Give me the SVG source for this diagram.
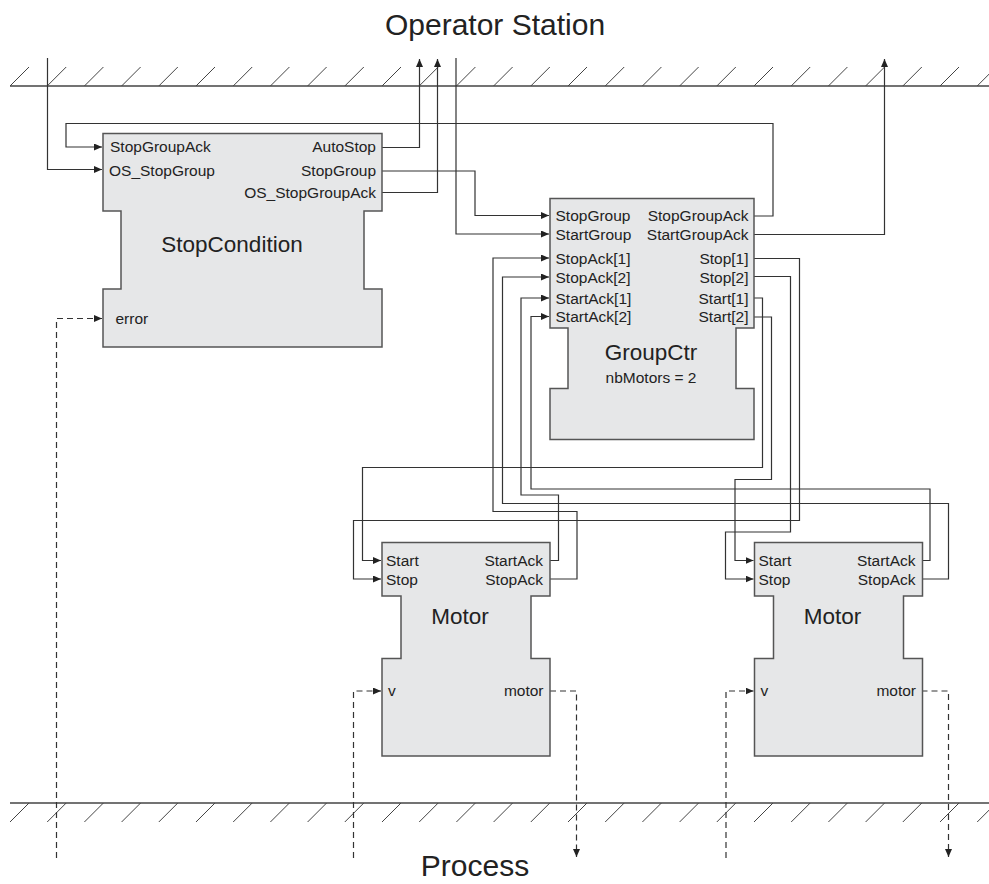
<svg xmlns="http://www.w3.org/2000/svg" width="989" height="884" viewBox="0 0 989 884">
  <style>
    text { font-family: "Liberation Sans", Arial, Helvetica, sans-serif; fill: #222; }
    .port { font-size: 15.5px; }
    .r { text-anchor: end; }
    .title { font-size: 22.5px; text-anchor: middle; }
    .param { font-size: 15.5px; text-anchor: middle; }
    .zone { font-size: 30px; text-anchor: middle; }
    .block { fill: #e6e7e8; stroke: #555; stroke-width: 1.5; }
    .wire { fill: none; stroke: #333; stroke-width: 1.2; }
    .dash { fill: none; stroke: #333; stroke-width: 1.2; stroke-dasharray: 6 4; }
    .ground { fill: none; stroke: #444; stroke-width: 1.5; }
    .hatch { fill: none; stroke: #444; stroke-width: 1; }
  </style>
  <defs>
    <marker id="arrow" markerWidth="9" markerHeight="8" refX="8" refY="3.5" orient="auto" markerUnits="userSpaceOnUse">
      <path d="M0,0 L8,3.5 L0,7 Z" fill="#222" stroke="none"/>
    </marker>
  </defs>

  <!-- boundary lines: operator station (top) and process (bottom) -->
  <g id="boundaries">
    <line class="ground" x1="10" y1="86" x2="989" y2="86"/>
    <path class="hatch" d="M10,86 l19,-19 m18.2,19 l19,-19 m18.2,19 l19,-19 m18.2,19 l19,-19 m18.2,19 l19,-19 m18.2,19 l19,-19 m18.2,19 l19,-19 m18.2,19 l19,-19 m18.2,19 l19,-19 m18.2,19 l19,-19 m18.2,19 l19,-19 m18.2,19 l19,-19 m18.2,19 l19,-19 m18.2,19 l19,-19 m18.2,19 l19,-19 m18.2,19 l19,-19 m18.2,19 l19,-19 m18.2,19 l19,-19 m18.2,19 l19,-19 m18.2,19 l19,-19 m18.2,19 l19,-19 m18.2,19 l19,-19 m18.2,19 l19,-19 m18.2,19 l19,-19 m18.2,19 l19,-19 m18.2,19 l19,-19 m18.2,19 l19,-19"/>
    <line class="ground" x1="10" y1="803" x2="989" y2="803"/>
    <path class="hatch" d="M10,822 l19,-19 m18.2,19 l19,-19 m18.2,19 l19,-19 m18.2,19 l19,-19 m18.2,19 l19,-19 m18.2,19 l19,-19 m18.2,19 l19,-19 m18.2,19 l19,-19 m18.2,19 l19,-19 m18.2,19 l19,-19 m18.2,19 l19,-19 m18.2,19 l19,-19 m18.2,19 l19,-19 m18.2,19 l19,-19 m18.2,19 l19,-19 m18.2,19 l19,-19 m18.2,19 l19,-19 m18.2,19 l19,-19 m18.2,19 l19,-19 m18.2,19 l19,-19 m18.2,19 l19,-19 m18.2,19 l19,-19 m18.2,19 l19,-19 m18.2,19 l19,-19 m18.2,19 l19,-19 m18.2,19 l19,-19 m18.2,19 l19,-19"/>
    <text class="zone" x="495" y="35">Operator Station</text>
    <text class="zone" x="475" y="876">Process</text>
  </g>

  <!-- connectors -->
  <g id="connectors">
    <path class="wire" d="M47.5,58 V169.5 H102" marker-end="url(#arrow)"/>
    <path class="wire" d="M754,216 H773 V123.5 H66 V147 H102" marker-end="url(#arrow)"/>
    <path class="wire" d="M382,147.5 H419.5 V59" marker-end="url(#arrow)"/>
    <path class="wire" d="M382,192.5 H437.5 V59" marker-end="url(#arrow)"/>
    <path class="wire" d="M382,171 H475 V215.5 H549" marker-end="url(#arrow)"/>
    <path class="wire" d="M456,58 V234 H549" marker-end="url(#arrow)"/>
    <path class="wire" d="M754,234.5 H884.5 V59" marker-end="url(#arrow)"/>

    <!-- acknowledgements from motors -->
    <path class="wire" d="M550,579 H577 V511.5 H493 V258 H549" marker-end="url(#arrow)"/>
    <path class="wire" d="M921.5,579 H948.5 V503.5 H502.5 V277 H549" marker-end="url(#arrow)"/>
    <path class="wire" d="M550,560.5 H558.5 V495 H521 V298 H549" marker-end="url(#arrow)"/>
    <path class="wire" d="M921.5,560.5 H930 V489 H531 V316.5 H549" marker-end="url(#arrow)"/>

    <!-- commands to motors -->
    <path class="wire" d="M754,258.5 H799.5 V520.5 H353.5 V579 H381" marker-end="url(#arrow)"/>
    <path class="wire" d="M754,276.5 H790.5 V532 H725.5 V579 H753.5" marker-end="url(#arrow)"/>
    <path class="wire" d="M754,298 H762.5 V467.5 H362.5 V560.5 H381" marker-end="url(#arrow)"/>
    <path class="wire" d="M754,317 H771.5 V479.5 H735 V560.5 H753.5" marker-end="url(#arrow)"/>

    <!-- process signals -->
    <path class="dash" d="M56.5,858 V318.5 H102" marker-end="url(#arrow)"/>
    <path class="dash" d="M353.5,858 V691 H381" marker-end="url(#arrow)"/>
    <path class="dash" d="M550,691 H576.5 V857" marker-end="url(#arrow)"/>
    <path class="dash" d="M726,858 V691 H753.5" marker-end="url(#arrow)"/>
    <path class="dash" d="M921.5,691 H948.5 V857" marker-end="url(#arrow)"/>
  </g>

  <!-- StopCondition block -->
  <g id="stopcondition">
    <path class="block" d="M103,133.5 H382 V211 H364 V289 H382 V347 H103 V289 H121 V211 H103 Z"/>
    <text class="port" x="110" y="152">StopGroupAck</text>
    <text class="port" x="109" y="175.5">OS_StopGroup</text>
    <text class="port r" x="376" y="152">AutoStop</text>
    <text class="port r" x="376" y="175.5">StopGroup</text>
    <text class="port r" x="376" y="197.5">OS_StopGroupAck</text>
    <text class="title" x="232" y="252">StopCondition</text>
    <text class="port" x="115.5" y="323.5">error</text>
  </g>

  <!-- GroupCtr block -->
  <g id="groupctr">
    <path class="block" d="M550,198.5 H754 V328 H736 V388.5 H754 V439.5 H550 V388.5 H568 V328 H550 Z"/>
    <text class="port" x="555.5" y="221">StopGroup</text>
    <text class="port" x="555.5" y="239.5">StartGroup</text>
    <text class="port" x="555.5" y="263.5">StopAck[1]</text>
    <text class="port" x="555.5" y="282.5">StopAck[2]</text>
    <text class="port" x="555.5" y="303.5">StartAck[1]</text>
    <text class="port" x="555.5" y="322">StartAck[2]</text>
    <text class="port r" x="748.5" y="221">StopGroupAck</text>
    <text class="port r" x="748.5" y="239.5">StartGroupAck</text>
    <text class="port r" x="748.5" y="263.5">Stop[1]</text>
    <text class="port r" x="748.5" y="282.5">Stop[2]</text>
    <text class="port r" x="748.5" y="303.5">Start[1]</text>
    <text class="port r" x="748.5" y="322">Start[2]</text>
    <text class="title" x="651" y="360">GroupCtr</text>
    <text class="param" x="651" y="383">nbMotors = 2</text>
  </g>

  <!-- Motor blocks -->
  <g id="motor1">
    <path class="block" d="M382,542.5 H550 V596 H531 V658.5 H550 V756 H382 V658.5 H401 V596 H382 Z"/>
    <text class="port" x="386" y="566">Start</text>
    <text class="port" x="386" y="584.5">Stop</text>
    <text class="port r" x="543" y="566">StartAck</text>
    <text class="port r" x="543" y="584.5">StopAck</text>
    <text class="title" x="460" y="624">Motor</text>
    <text class="port" x="388" y="696">v</text>
    <text class="port r" x="543.5" y="696">motor</text>
  </g>

  <g id="motor2" transform="translate(372.5,0)">
    <path class="block" d="M382,542.5 H550 V596 H531 V658.5 H550 V756 H382 V658.5 H401 V596 H382 Z"/>
    <text class="port" x="386" y="566">Start</text>
    <text class="port" x="386" y="584.5">Stop</text>
    <text class="port r" x="543" y="566">StartAck</text>
    <text class="port r" x="543" y="584.5">StopAck</text>
    <text class="title" x="460" y="624">Motor</text>
    <text class="port" x="388" y="696">v</text>
    <text class="port r" x="543.5" y="696">motor</text>
  </g>
</svg>
